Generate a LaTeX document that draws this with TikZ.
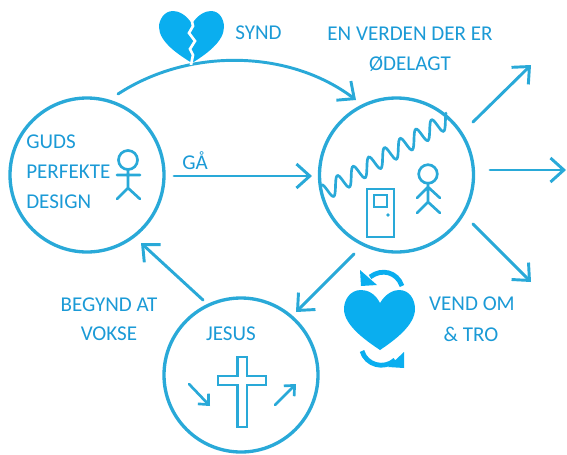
\documentclass[tikz,border=0pt]{standalone}
\usepackage{fontspec}
\setmainfont{Carlito}
\definecolor{ln}{HTML}{29A9D8}
\definecolor{txt}{HTML}{1B9AD6}
\definecolor{fillb}{HTML}{0AAEEF}
\usetikzlibrary{arrows.meta}
\tikzset{
 ring/.style={circle,draw=ln,line width=2.5pt,minimum size=115.5pt,inner sep=0pt},
 conn/.style={draw=ln,line width=2.2pt,line cap=round,-{Straight Barb[length=10pt,width=18pt,line width=2.2pt]}},
 small/.style={draw=ln,line width=2pt,line cap=round,-{Straight Barb[length=6pt,width=11pt,line width=2pt]}},
 fig/.style={draw=ln,line width=2pt,line cap=round},
 lab/.style={text=txt,font=\fontsize{15.8pt}{18pt}\selectfont,inner sep=0pt,align=center},
}
\begin{document}
\begin{tikzpicture}[x=0.75pt,y=-0.75pt]
\useasboundingbox (0,0) rectangle (567,454);
\node[ring] (design) at (87,175) {};
\node[ring] (broken) at (396.5,175) {};
\node[ring] (jesus) at (241,375) {};
% connectors
\coordinate (s1) at (118,94); \coordinate (e1) at (356,100);
\draw[conn] (s1) .. controls (190,47) and (290,50) .. (e1);
\coordinate (s2) at (174,176); \coordinate (e2) at (312,176);
\draw[conn] (s2) -- (e2);
\coordinate (s3) at (473,122); \coordinate (e3) at (531,65);
\draw[conn] (s3) -- (e3);
\coordinate (s4) at (490,170); \coordinate (e4) at (566,170);
\draw[conn] (s4) -- (e4);
\coordinate (s5) at (473,224); \coordinate (e5) at (531,282);
\draw[conn] (s5) -- (e5);
\coordinate (s6) at (354,254); \coordinate (e6) at (296,312);
\draw[conn] (s6) -- (e6);
\coordinate (s7) at (203,300); \coordinate (e7) at (141,243);
\draw[conn] (s7) -- (e7);
% broken heart
\fill[fillb] (192,24) .. controls (198,14) and (206,11) .. (211,11) .. controls (220,11) and (224,20) .. (224,27) .. controls (224,42) and (205,55) .. (192,63) .. controls (179,55) and (159,42) .. (159,27) .. controls (159,20) and (164,11) .. (173,11) .. controls (178,11) and (186,14) .. (192,24) -- cycle;
\draw[white,line width=2pt] (192,22) -- (193,26) -- (189,33) -- (195,41) -- (190,49) -- (193,55) -- (191,65);
% repent heart
\fill[fillb] (380,303) .. controls (386,293) and (394,290) .. (399,290) .. controls (410,290) and (415,300) .. (415,309) .. controls (415,325) and (395,340) .. (380,350) .. controls (365,340) and (344,325) .. (344,309) .. controls (344,300) and (350,290) .. (361,290) .. controls (367,290) and (375,293) .. (380,303) -- cycle;
\draw[fillb,line width=3.6pt] (402,286) .. controls (397,272) and (382,268) .. (370,277);
\fill[fillb] (360,270) -- (361,286) -- (377,285) -- cycle;
\draw[fillb,line width=3.6pt] (362,351) .. controls (366,365) and (384,370) .. (395,360);
\fill[fillb] (404,352) -- (404,368) -- (388,367) -- cycle;
% wave
\draw[draw=ln,line width=2pt,line cap=round] plot[smooth,domain=-0.75:7.15,samples=130,variable=\u]
 ({335.5+15.7*\u-2.2*sin(360*\u)},{186-9.3*\u-8*sin(360*\u)});
% door
\draw[fig] (367,189) rectangle (394,237);
\draw[fig] (374,195) rectangle (387,207);
\fill[ln] (388,215) circle (1.8);
% cross
\draw[draw=ln,line width=2pt] (237.5,357) -- (247,357) -- (247,376) -- (266,376) -- (266,385) -- (247,385) -- (247,427) -- (237.5,427) -- (237.5,385) -- (218,385) -- (218,376) -- (237.5,376) -- cycle;
\coordinate (a1) at (189,384); \coordinate (a2) at (210,406);
\draw[small] (a1) -- (a2);
\coordinate (a3) at (275,405); \coordinate (a4) at (296,384);
\draw[small] (a3) -- (a4);
% figures
\draw[fig] (428,174) circle (9.3);
\draw[fig] (428,183) -- (428,202) (417,198) -- (428,187) -- (440,198) (417,213) -- (428,202) -- (440,213);
\draw[fig] (128,160) circle (9.5);
\draw[fig] (128,170) -- (128,188) (117,175) -- (140,175) (117,199) -- (128,188) -- (140,199);
% labels
\node[lab,anchor=west] (l1) at (235,33) {SYND};
\node[lab] (l2) at (410,34) {EN VERDEN DER ER};
\node[lab] (l3) at (410,64) {ØDELAGT};
\node[lab,anchor=west] (l4) at (26,142) {GUDS};
\node[lab,anchor=west] (l5) at (26,172) {PERFEKTE};
\node[lab,anchor=west] (l6) at (26,202) {DESIGN};
\node[lab,anchor=west] (l7) at (182,161) {GÅ};
\node[lab] (l8) at (109,305) {BEGYND AT};
\node[lab] (l9) at (109,334) {VOKSE};
\node[lab] (l10) at (231,334) {JESUS};
\node[lab] (l11) at (472,304) {VEND OM};
\node[lab] (l12) at (471,334) {\& TRO};
\end{tikzpicture}
\end{document}
